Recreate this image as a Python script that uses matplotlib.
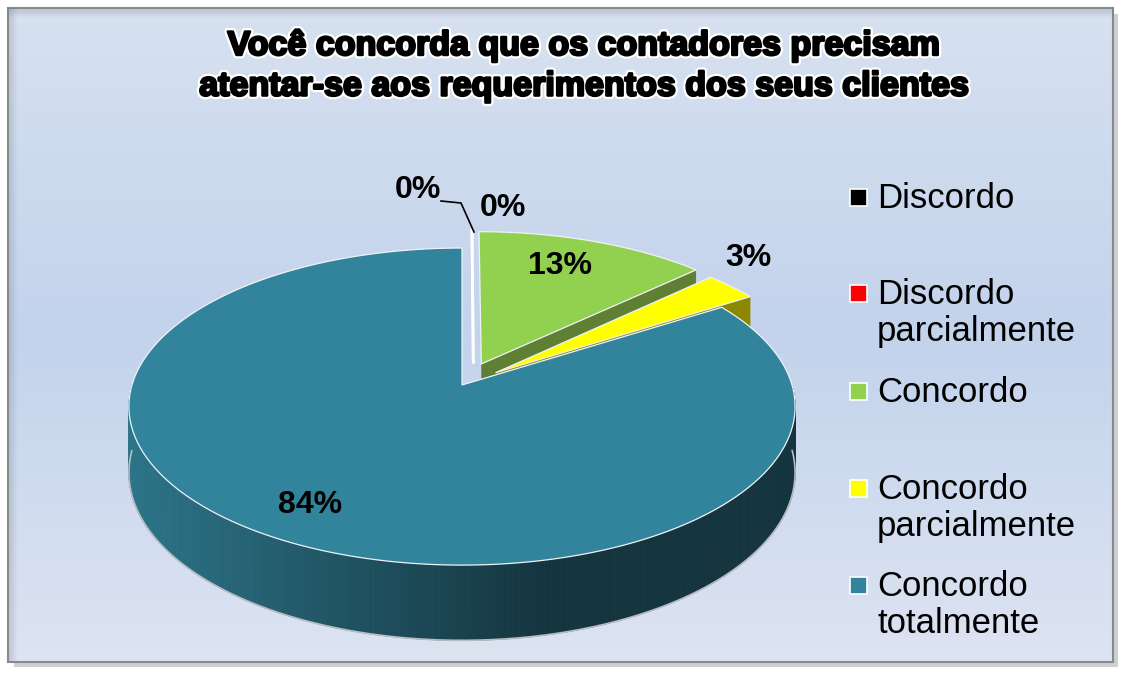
import numpy as np
import matplotlib.pyplot as plt
from matplotlib.patches import Polygon, Rectangle
import matplotlib.patheffects as pe
from matplotlib.colors import to_rgb

# dados
categorias = ["Discordo", "Discordo\nparcialmente", "Concordo",
              "Concordo\nparcialmente", "Concordo\ntotalmente"]
valores = [0, 0, 13, 3, 84]
rotulos = ["0%", "0%", "13%", "3%", "84%"]
cores = ["#000000", "#FF0000", "#92D050", "#FFFF00", "#31849B"]
cores_lado = ["#000000", "#990000", "#5F7F35", "#8C8700", "#256577"]
explodir = [0.15, 0.15, 0.15, 0.13, 0.0]
titulo = "Você concorda que os contadores precisam\natentar-se aos requerimentos dos seus clientes"

W, H = 1124, 675
fig = plt.figure(figsize=(W / 100, H / 100), dpi=100)
ax = fig.add_axes([0, 0, 1, 1])
ax.set_xlim(0, W)
ax.set_ylim(H, 0)
ax.axis("off")

# fundo com degrade
ax.add_patch(Rectangle((14, 14), W - 20, H - 22, facecolor="#9aa0a8", edgecolor="none", alpha=0.5, zorder=0))
top = np.array(to_rgb("#D7E1F0"))
mid = np.array(to_rgb("#C3D3EC"))
bot = np.array(to_rgb("#DDE4F2"))
ys = np.linspace(0, 1, 200)[:, None]
grad = np.where(ys < 0.5, top + (mid - top) * (ys / 0.5), mid + (bot - mid) * ((ys - 0.5) / 0.5))
ax.imshow(grad[:, None, :], extent=(8, 1113, 662, 8), aspect="auto", zorder=1)
ax.add_patch(Rectangle((8, 8), 1105, 654, facecolor="none", edgecolor="#8a8a8a", lw=1.5, zorder=2))
for i in range(8):
    a = 0.18 * (1 - i / 8)
    ax.plot([9 + i, 9 + i], [9, 661], color="#6a7080", alpha=a, lw=1, zorder=2)
    ax.plot([9, 1112], [9 + i, 9 + i], color="#6a7080", alpha=a, lw=1, zorder=2)

# geometria do pie 3D
cx, cy, rx, ry, k, prof = 462, 385, 330, 155.6, 0.136, 65


def proj(X, Y, z=0.0):
    w = 1 + k * Y
    return cx + rx * X / w, cy - ry * Y / w + prof * z / w


def ponto(r, t, off, z=0.0):
    return proj(r * np.cos(t) + off[0], r * np.sin(t) + off[1], z)


total = sum(valores)
fatias = []
ang = 90.0
for i, v in enumerate(valores):
    a1 = ang
    a0 = ang - v / total * 360
    ang = a0
    m = np.radians((a0 + a1) / 2)
    off = (explodir[i] * np.cos(m), explodir[i] * np.sin(m))
    fatias.append((i, np.radians(a0), np.radians(a1), off, np.sin(m)))

lado_claro = np.array(to_rgb("#2C7488"))
lado_esc = np.array(to_rgb("#14343E"))

zo = 5
for i, t0, t1, off, s in sorted(fatias, key=lambda f: -f[4]):
    if valores[i] == 0:
        p0 = ponto(0, 0, (off[0] + 0.035, off[1]))
        p1 = ponto(1, t1, (off[0] + 0.035, off[1]))
        ax.plot([p0[0], p1[0]], [p0[1], p1[1]], color="white", lw=2, zorder=zo)
        zo += 1
        continue
    # faces de corte
    for t, n in ((t0, t0 - np.pi / 2), (t1, t1 + np.pi / 2)):
        if np.sin(n) < -1e-6:
            c0 = ponto(0, t, off)
            e0 = ponto(1, t, off)
            e1 = ponto(1, t, off, 1)
            c1 = ponto(0, t, off, 1)
            ax.add_patch(Polygon([c0, e0, e1, c1], closed=True, facecolor=cores_lado[i],
                                 edgecolor="none", zorder=zo))
    zo += 1
    # parede externa (frente)
    ts = np.linspace(t0, t1, max(3, int(np.degrees(t1 - t0) * 2)))
    for a, b in zip(ts[:-1], ts[1:]):
        if np.sin((a + b) / 2) < 0:
            pa, pb = ponto(1, a, off), ponto(1, b, off)
            qa, qb = ponto(1, a, off, 1), ponto(1, b, off, 1)
            if i == 4:
                f = np.clip((pa[0] - 130) / 420, 0, 1)
                col = lado_claro + (lado_esc - lado_claro) * f
            else:
                col = cores_lado[i]
            ax.add_patch(Polygon([pa, pb, qb, qa], closed=True, facecolor=col,
                                 edgecolor=col, lw=0.6, zorder=zo))
    fr = ts[np.sin(ts) < 0]
    if len(fr) > 1:
        bx, by = zip(*[ponto(1, t, off, 1) for t in fr])
        ax.plot(bx, by, color="#b8bcc4", lw=1.2, zorder=zo)
    zo += 1
    # face de cima
    pts = [ponto(0, 0, off)] + [ponto(1, t, off) for t in ts]
    ax.add_patch(Polygon(pts, closed=True, facecolor=cores[i], edgecolor="#eef2f6",
                         lw=0.9, zorder=zo))
    zo += 1

# rotulos
pos_rot = [(418, 190), (503, 208), (560, 266), (748, 258), (310, 505)]
for r, (x, y) in zip(rotulos, pos_rot):
    ax.text(x, y, r, fontsize=23, fontweight="bold", family="Liberation Sans",
            ha="center", va="center", zorder=50)
ax.plot([441, 461, 474], [201, 203, 232], color="black", lw=1.2, zorder=50)

# legenda
leg_y = [197, 293, 391, 488, 585]
for c, nome, y in zip(cores, categorias, leg_y):
    ax.add_patch(Rectangle((850, y - 8.5), 17, 17, facecolor=c, edgecolor="white", lw=1.2, zorder=50))
    ax.text(877, y - 15, nome, fontsize=25, family="Liberation Sans", ha="left", va="top",
            linespacing=1.17, zorder=50)

# titulo
ax.text(584, 66, titulo, fontsize=24.5, fontweight="bold", family="Liberation Sans",
        ha="center", va="center", linespacing=1.4, zorder=60,
        path_effects=[pe.withStroke(linewidth=5, foreground="white"),
                      pe.withStroke(linewidth=1.8, foreground="black")])

fig.savefig("out.png", dpi=100, facecolor="white")
